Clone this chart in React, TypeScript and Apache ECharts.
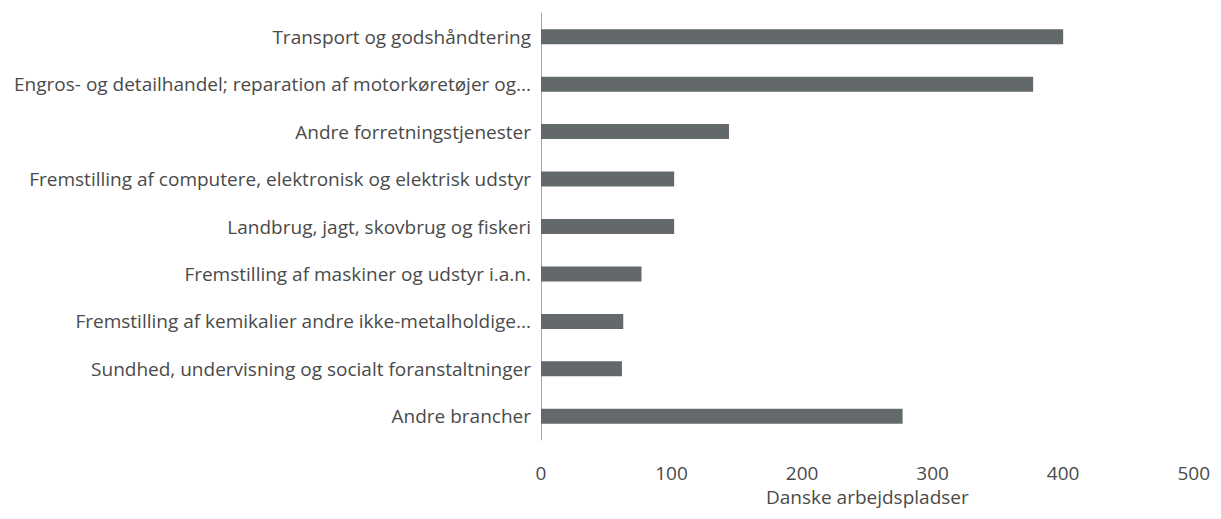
import React, { useEffect, useRef } from "react";
import * as echarts from "echarts";

const categories = [
  "Transport og godshåndtering",
  "Engros- og detailhandel; reparation af motorkøretøjer og...",
  "Andre forretningstjenester",
  "Fremstilling af computere, elektronisk og elektrisk udstyr",
  "Landbrug, jagt, skovbrug og fiskeri",
  "Fremstilling af maskiner og udstyr i.a.n.",
  "Fremstilling af kemikalier andre ikke-metalholdige...",
  "Sundhed, undervisning og socialt foranstaltninger",
  "Andre brancher",
];
const values = [400, 377, 144, 102, 102, 77, 63, 62, 277];
const xTicks = { min: 0, max: 500, interval: 100 };
const xAxisName = "Danske arbejdspladser";

const FONT = "'Open Sans', 'Noto Sans', sans-serif";
const TEXT = "#4a4a4a";

export default function App() {
  const ref = useRef<HTMLDivElement>(null);
  useEffect(() => {
    if (!ref.current) return;
    const chart = echarts.init(ref.current, null, { renderer: "svg" });
    chart.setOption({
      animation: false,
      grid: { left: 533, right: 12, top: 5, bottom: 64, containLabel: false },
      xAxis: {
        type: "value",
        min: xTicks.min,
        max: xTicks.max,
        interval: xTicks.interval,
        name: xAxisName,
        nameLocation: "middle",
        nameGap: 47,
        nameTextStyle: { fontFamily: FONT, fontSize: 19, color: TEXT },
        axisLine: { show: false },
        axisTick: { show: false },
        splitLine: { show: false },
        axisLabel: { fontFamily: FONT, fontSize: 19, color: TEXT, margin: 23 },
      },
      yAxis: {
        type: "category",
        data: categories,
        inverse: true,
        axisLine: { show: true, lineStyle: { color: "#a6a6a6", width: 1 } },
        axisTick: { show: false },
        axisLabel: { fontFamily: FONT, fontSize: 19, color: TEXT, margin: 10 },
      },
      series: [
        {
          type: "bar",
          data: values,
          barWidth: 15,
          itemStyle: { color: "#63686b" },
        },
      ],
    });
    return () => chart.dispose();
  }, []);
  return <div ref={ref} style={{ width: 1205, height: 503 }} />;
}
